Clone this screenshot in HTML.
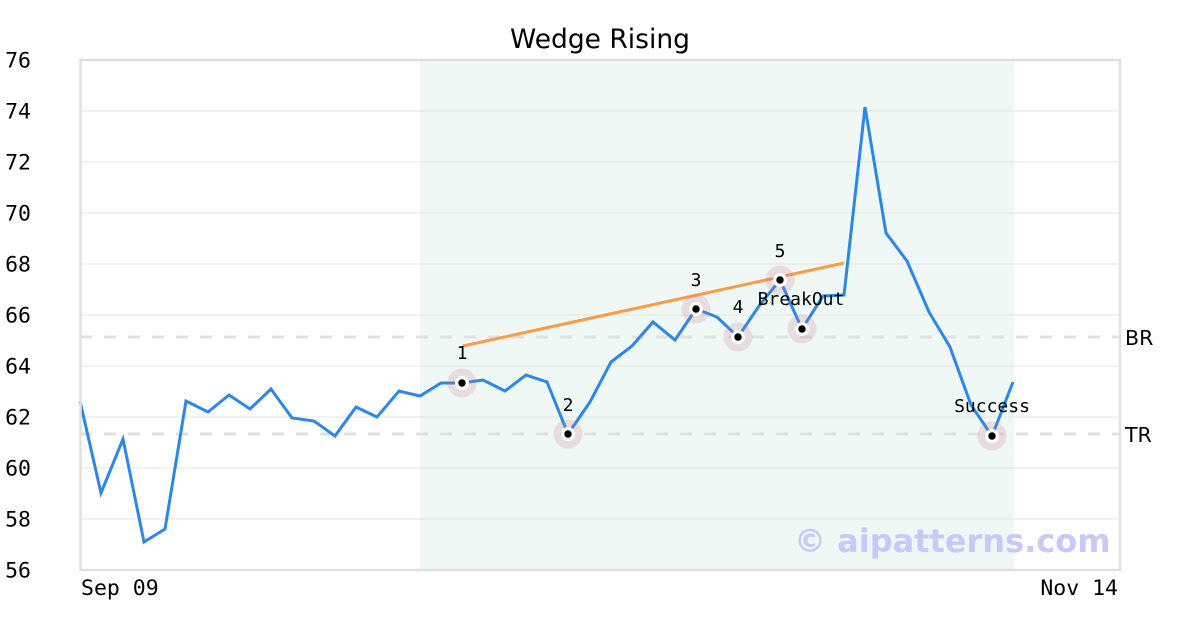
<!DOCTYPE html>
<html>
<head>
<meta charset="utf-8">
<style>
  html,body{margin:0;padding:0;background:#fff;}
  svg{display:block;}
</style>
</head>
<body>
<svg width="1200" height="630" viewBox="0 0 1200 630" xmlns="http://www.w3.org/2000/svg">
  <rect x="0" y="0" width="1200" height="630" fill="#ffffff"/>
  <!-- shaded region -->
  <rect x="420" y="60" width="594" height="510" fill="#eff8f4"/>
  <!-- grid lines -->
  <g stroke="#e4e4e4" stroke-width="1">
    <line x1="80" y1="111" x2="1120" y2="111"/>
    <line x1="80" y1="162" x2="1120" y2="162"/>
    <line x1="80" y1="213" x2="1120" y2="213"/>
    <line x1="80" y1="264" x2="1120" y2="264"/>
    <line x1="80" y1="315" x2="1120" y2="315"/>
    <line x1="80" y1="366" x2="1120" y2="366"/>
    <line x1="80" y1="417" x2="1120" y2="417"/>
    <line x1="80" y1="468" x2="1120" y2="468"/>
    <line x1="80" y1="519" x2="1120" y2="519"/>
  </g>
  <!-- dashed BR / TR -->
  <g stroke="#e0e0e0" stroke-width="3" stroke-dasharray="12,12">
    <line x1="80" y1="337" x2="1120" y2="337"/>
    <line x1="80" y1="434" x2="1120" y2="434"/>
  </g>
  <!-- watermark -->
  <text x="794" y="552" font-family="DejaVu Sans, Liberation Sans, sans-serif" font-weight="bold" font-size="32" fill="#c9c9f9">© aipatterns.com</text>
  <!-- price line -->
  <polyline fill="none" stroke="#2b87e9" stroke-width="3" stroke-linejoin="miter"
    points="80,401 101,493 123,439 144,542 165,529 186,401 208,412 229,395 250,409 271,389 292,418 314,421 335,436 356,407 377,417 399,391 420,396 441,383 462,383 483,380 505,391 526,375 547,382 568,434 590,402 611,362 632,346 653,322 675,340 696,309 717,317 738,337 759,306 780,280 802,329 823,296 844,295 865,107 886,233 907,261 929,312 950,347 971,405 992,436 1013,382"/>
  <!-- orange wedge line -->
  <line x1="463" y1="346" x2="844" y2="263" stroke="#fb9b47" stroke-width="3"/>
  <!-- markers -->
  <g>
    <g fill="rgba(205,110,140,0.2)">
      <circle cx="462" cy="383" r="14.5"/>
      <circle cx="568" cy="434" r="14.5"/>
      <circle cx="696" cy="309" r="14.5"/>
      <circle cx="738" cy="337" r="14.5"/>
      <circle cx="780" cy="280" r="14.5"/>
      <circle cx="802" cy="329" r="14.5"/>
      <circle cx="992" cy="436" r="14.5"/>
    </g>
    <g fill="#ffffff">
      <circle cx="462" cy="383" r="7"/>
      <circle cx="568" cy="434" r="7"/>
      <circle cx="696" cy="309" r="7"/>
      <circle cx="738" cy="337" r="7"/>
      <circle cx="780" cy="280" r="7"/>
      <circle cx="802" cy="329" r="7"/>
      <circle cx="992" cy="436" r="7"/>
    </g>
    <g fill="#000000">
      <circle cx="462" cy="383" r="3.7"/>
      <circle cx="568" cy="434" r="3.7"/>
      <circle cx="696" cy="309" r="3.7"/>
      <circle cx="738" cy="337" r="3.7"/>
      <circle cx="780" cy="280" r="3.7"/>
      <circle cx="802" cy="329" r="3.7"/>
      <circle cx="992" cy="436" r="3.7"/>
    </g>
  </g>
  <!-- point labels -->
  <g font-family="DejaVu Sans Mono, Liberation Mono, monospace" font-size="18" fill="#000" text-anchor="middle">
    <text x="462" y="359">1</text>
    <text x="568" y="411">2</text>
    <text x="696" y="286">3</text>
    <text x="738" y="313">4</text>
    <text x="780" y="257">5</text>
    <text x="801" y="305">BreakOut</text>
    <text x="992" y="412">Success</text>
  </g>
  <!-- frame -->
  <rect x="80.5" y="60" width="1039.5" height="510" fill="none" stroke="#e0e0e0" stroke-width="2.5"/>
  <!-- y tick labels -->
  <g font-family="DejaVu Sans Mono, Liberation Mono, monospace" font-size="21.5" fill="#000" text-anchor="end">
    <text x="31" y="67.5">76</text>
    <text x="31" y="118.5">74</text>
    <text x="31" y="169.5">72</text>
    <text x="31" y="220.5">70</text>
    <text x="31" y="271.5">68</text>
    <text x="31" y="322.5">66</text>
    <text x="31" y="373.5">64</text>
    <text x="31" y="424.5">62</text>
    <text x="31" y="475.5">60</text>
    <text x="31" y="526.5">58</text>
    <text x="31" y="577.5">56</text>
  </g>
  <!-- x labels -->
  <g font-family="DejaVu Sans Mono, Liberation Mono, monospace" font-size="21.5" fill="#000">
    <text x="81" y="595">Sep 09</text>
    <text x="1118" y="595" text-anchor="end">Nov 14</text>
  </g>
  <!-- BR / TR -->
  <g font-family="DejaVu Sans, Liberation Sans, sans-serif" font-size="20.5" fill="#000">
    <text x="1125" y="345">BR</text>
    <text x="1125" y="442">TR</text>
  </g>
  <!-- title -->
  <text x="600" y="48" text-anchor="middle" font-family="DejaVu Sans, Liberation Sans, sans-serif" font-size="26.5" fill="#000">Wedge Rising</text>
</svg>
</body>
</html>
